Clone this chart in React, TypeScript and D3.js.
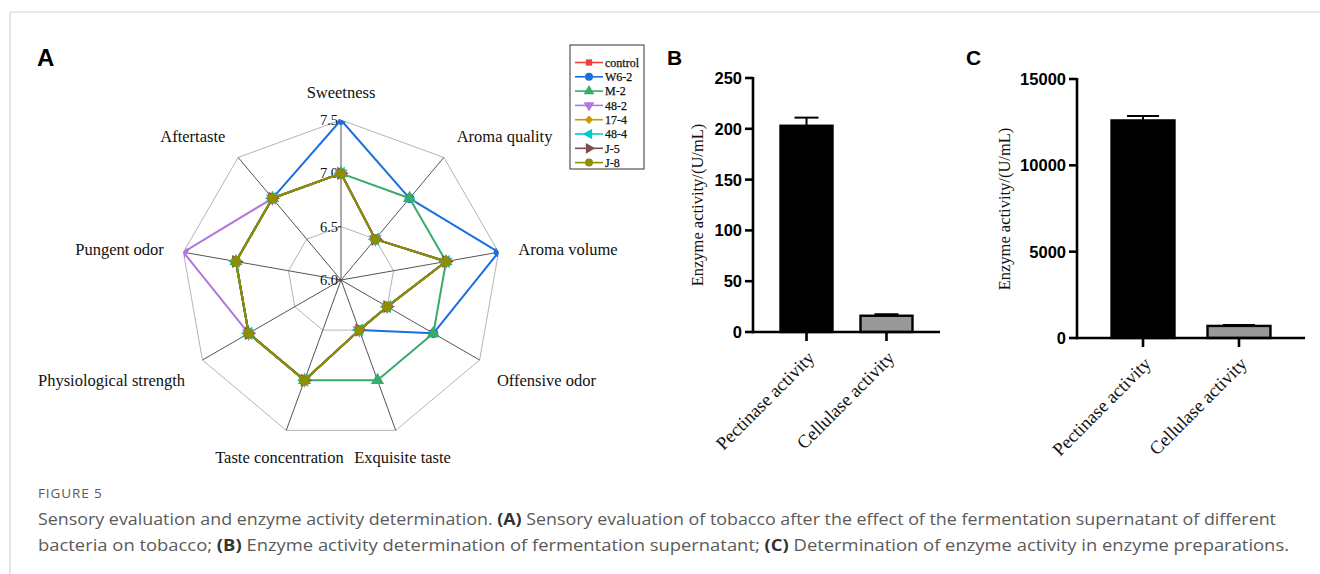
import React from 'react';
import * as d3 from 'd3';

// ---------- Radar data (panel A) ----------
const radarAxes = ['Sweetness', 'Aroma quality', 'Aroma volume', 'Offensive odor', 'Exquisite taste', 'Taste concentration', 'Physiological strength', 'Pungent odor', 'Aftertaste'];
const seriesNames = ['control', 'W6-2', 'M-2', '48-2', '17-4', '48-4', 'J-5', 'J-8'];
const seriesColors = ['#F14040', '#1A6FDF', '#37AD6B', '#B177DE', '#CC9900', '#00CBCC', '#7D4E4E', '#8E8E00'];
const seriesShapes = ['square', 'circle', 'triUp', 'triDown', 'diamond', 'triLeft', 'triRight', 'circle'];
const controlValues = [7.0, 6.5, 7.0, 6.5, 6.5, 7.0, 7.0, 7.0, 7.0];
const w62Values = [7.5, 7.0, 7.5, 7.0, 6.5, 7.0, 7.0, 7.0, 7.0];
const m2Values = [7.0, 7.0, 7.0, 7.0, 7.0, 7.0, 7.0, 7.0, 7.0];
const s482Values = [7.0, 6.5, 7.0, 6.5, 6.5, 7.0, 7.0, 7.5, 7.0];
const s174Values = [7.0, 6.5, 7.0, 6.5, 6.5, 7.0, 7.0, 7.0, 7.0];
const s484Values = [7.0, 6.5, 7.0, 6.5, 6.5, 7.0, 7.0, 7.0, 7.0];
const j5Values = [7.0, 6.5, 7.0, 6.5, 6.5, 7.0, 7.0, 7.0, 7.0];
const j8Values = [7.0, 6.5, 7.0, 6.5, 6.5, 7.0, 7.0, 7.0, 7.0];
const radarSeries = [controlValues, w62Values, m2Values, s482Values, s174Values, s484Values, j5Values, j8Values];
const radarTicks = [6.0, 6.5, 7.0, 7.5];

// ---------- Bar data (panels B, C) ----------
const enzymeCategories = ['Pectinase activity', 'Cellulase activity'];
const barFills = ['#000000', '#999999'];
const supernatantMeans = [203, 16];
const supernatantErrors = [8, 1.5];
const supernatantTicks = [0, 50, 100, 150, 200, 250];
const preparationMeans = [12600, 700];
const preparationErrors = [250, 60];
const preparationTicks = [0, 5000, 10000, 15000];

const SERIF = '"Liberation Serif", "Times New Roman", serif';
const SANS = '"Liberation Sans", Arial, sans-serif';

function markerPath(shape: string, size: number) {
  const sym = d3.symbol();
  if (shape === 'square') return { d: sym.type(d3.symbolSquare).size(size * 0.8)()!, rot: 0 };
  if (shape === 'circle') return { d: sym.type(d3.symbolCircle).size(size)()!, rot: 0 };
  if (shape === 'diamond') return { d: sym.type(d3.symbolSquare).size(size * 0.7)()!, rot: 45 };
  const tri = sym.type(d3.symbolTriangle).size(size)()!;
  const rot = shape === 'triUp' ? 0 : shape === 'triDown' ? 180 : shape === 'triLeft' ? -90 : 90;
  return { d: tri, rot };
}

function Radar() {
  const cx = 341, cy = 280, R = 160;
  const r = d3.scaleLinear().domain([6, 7.5]).range([0, R]);
  const n = radarAxes.length;
  const ang = (i: number) => (i * 2 * Math.PI) / n;
  const pt = (i: number, v: number): [number, number] => [cx + r(v) * Math.sin(ang(i)), cy - r(v) * Math.cos(ang(i))];
  const ring = (v: number) => d3.line()(radarAxes.map((_, i) => pt(i, v)).concat([pt(0, v)]))!;
  const outer = radarAxes.map((_, i) => pt(i, 7.5));
  const lineGen = d3.line<[number, number]>();
  return (
    <g>
      <defs>
        <clipPath id="radarClip">
          <polygon points={outer.map(p => p.join(',')).join(' ')} />
        </clipPath>
      </defs>
      {radarTicks.slice(1).map(t => (
        <path key={t} d={ring(t)} fill="none" stroke="#b4b4b4" strokeWidth={1} />
      ))}
      {radarAxes.map((_, i) => {
        const [x, y] = pt(i, 7.5);
        return <line key={i} x1={cx} y1={cy} x2={x} y2={y} stroke="#555" strokeWidth={1} />;
      })}
      {radarTicks.map(t => (
        <g key={t}>
          <line x1={cx - 3} x2={cx} y1={cy - r(t)} y2={cy - r(t)} stroke="#333" />
          <text x={cx - 3} y={cy - r(t)} dy="0.35em" textAnchor="end" fontFamily={SERIF} fontSize={14.5} fill="#111">
            {t.toFixed(1)}
          </text>
        </g>
      ))}
      <g clipPath="url(#radarClip)">
        {radarSeries.map((vals, s) => {
          const pts = vals.map((v, i) => pt(i, v));
          const m = markerPath(seriesShapes[s], s === radarSeries.length - 1 ? 85 : 75);
          return (
            <g key={s}>
              <path d={lineGen(pts.concat([pts[0]]))!} fill="none" stroke={seriesColors[s]} strokeWidth={2} strokeLinejoin="round" />
              {pts.map((p, i) => (
                <path key={i} d={m.d} transform={`translate(${p[0]},${p[1]}) rotate(${m.rot})`} fill={seriesColors[s]} />
              ))}
            </g>
          );
        })}
      </g>
      {radarAxes.map((label, i) => {
        const a = ang(i);
        const lr = 180;
        const x = cx + lr * Math.sin(a);
        let y = cy - lr * Math.cos(a);
        const s = Math.sin(a), c = Math.cos(a);
        const anchor = s > 0.5 ? 'start' : s < -0.5 ? 'end' : 'middle';
        if (c > 0.95) y -= 8;
        else if (c < -0.3 && c > -0.7) y += 10;
        else if (c > 0.5) y -= 6;
        else if (c < -0.9) y += 8;
        return (
          <text key={label} x={x} y={y} dy="0.35em" textAnchor={anchor} fontFamily={SERIF} fontSize={16.5} fill="#111">
            {label}
          </text>
        );
      })}
      {/* legend */}
      <rect x={570} y={45} width={74} height={124} fill="#fff" stroke="#333" strokeWidth={1} />
      {seriesNames.map((name, s) => {
        const y = 62.5 + s * 14.3;
        const m = markerPath(seriesShapes[s], 50);
        return (
          <g key={name}>
            <line x1={575} x2={603} y1={y} y2={y} stroke={seriesColors[s]} strokeWidth={1.6} />
            <path d={m.d} transform={`translate(589,${y}) rotate(${m.rot})`} fill={seriesColors[s]} />
            <text x={605} y={y} dy="0.35em" fontFamily={SERIF} fontSize={12} fill="#111" stroke="#111" strokeWidth={0.25}>
              {name}
            </text>
          </g>
        );
      })}
    </g>
  );
}

interface BarProps {
  axisX: number; xEnd: number; yBottom: number; yTop: number; maxV: number;
  ticks: number[]; means: number[]; errors: number[]; titleX: number; titleY: number;
  paddingInner: number; paddingOuter: number; capHalf: number;
}

function BarPanel(p: BarProps) {
  const x = d3.scaleBand<string>().domain(enzymeCategories).range([p.axisX, p.xEnd]).paddingInner(p.paddingInner).paddingOuter(p.paddingOuter);
  const y = d3.scaleLinear().domain([0, p.maxV]).range([p.yBottom, p.yTop]);
  const fmt = d3.format('d');
  const sw = 2.6;
  return (
    <g>
      {enzymeCategories.map((c, i) => {
        const bx = x(c)!, bw = x.bandwidth();
        const cxm = bx + bw / 2;
        const top = y(p.means[i]);
        const et = y(p.means[i] + p.errors[i]);
        return (
          <g key={c}>
            <line x1={cxm} x2={cxm} y1={top} y2={et} stroke="#000" strokeWidth={2} />
            <line x1={cxm - p.capHalf} x2={cxm + p.capHalf} y1={et} y2={et} stroke="#000" strokeWidth={2} />
            <rect x={bx} y={top} width={bw} height={p.yBottom - top} fill={barFills[i]} stroke="#000" strokeWidth={2.4} />
            <line x1={cxm} x2={cxm} y1={p.yBottom} y2={p.yBottom + 9} stroke="#000" strokeWidth={sw} />
            <text transform={`translate(${cxm + 9},${p.yBottom + 27}) rotate(-45)`} textAnchor="end" fontFamily={SERIF} fontSize={18.5} fill="#111">
              {c}
            </text>
          </g>
        );
      })}
      <line x1={p.axisX} x2={p.axisX} y1={p.yTop - 1} y2={p.yBottom + 1.3} stroke="#000" strokeWidth={sw} />
      <line x1={p.axisX - 1.3} x2={p.xEnd} y1={p.yBottom} y2={p.yBottom} stroke="#000" strokeWidth={sw} />
      {p.ticks.map(t => (
        <g key={t}>
          <line x1={p.axisX - 8} x2={p.axisX} y1={y(t)} y2={y(t)} stroke="#000" strokeWidth={sw} />
          <text x={p.axisX - 11} y={y(t)} dy="0.36em" textAnchor="end" fontFamily={SANS} fontWeight="bold" fontSize={16.5} fill="#000">
            {fmt(t)}
          </text>
        </g>
      ))}
      <text transform={`translate(${p.titleX},${p.titleY}) rotate(-90)`} dy="0.35em" textAnchor="middle" fontFamily={SERIF} fontSize={16.5} fill="#111">
        Enzyme activity/(U/mL)
      </text>
    </g>
  );
}

export default function App() {
  const capColor = '#5a5a5a';
  return (
    <svg width={1320} height={574} style={{ position: 'absolute', left: 0, top: 0, background: '#fff' }}>
      <rect x={0} y={0} width={1320} height={574} fill="#fff" />
      <line x1={10} x2={1320} y1={12} y2={12} stroke="#d4d4d4" strokeWidth={1.2} />
      <line x1={10} x2={10} y1={12} y2={574} stroke="#d4d4d4" strokeWidth={1.2} />
      <text x={37} y={66} fontFamily={SANS} fontWeight="bold" fontSize={24} fill="#000">A</text>
      <text x={667} y={65} fontFamily={SANS} fontWeight="bold" fontSize={21} fill="#000">B</text>
      <text x={966} y={65} fontFamily={SANS} fontWeight="bold" fontSize={21} fill="#000">C</text>
      <Radar />
      <BarPanel axisX={753} xEnd={940} yBottom={332} yTop={78} maxV={250} ticks={supernatantTicks}
        means={supernatantMeans} errors={supernatantErrors} titleX={697} titleY={205}
        paddingInner={0.35} paddingOuter={0.344} capHalf={12} />
      <BarPanel axisX={1077} xEnd={1305} yBottom={338} yTop={79} maxV={15000} ticks={preparationTicks}
        means={preparationMeans} errors={preparationErrors} titleX={1004} titleY={209}
        paddingInner={0.344} paddingOuter={0.36} capHalf={16} />
      <text x={38} y={498} fontFamily={'"Open Sans", sans-serif'} fontSize={13.5} fill={capColor} letterSpacing={0.9}>FIGURE 5</text>
      <text x={38} y={525} fontFamily={'"Open Sans", sans-serif'} fontSize={15.5} fill={capColor} textLength={1238} lengthAdjust="spacingAndGlyphs">
        Sensory evaluation and enzyme activity determination. <tspan fontWeight="bold" fill="#333">(A)</tspan> Sensory evaluation of tobacco after the effect of the fermentation supernatant of different
      </text>
      <text x={38} y={551} fontFamily={'"Open Sans", sans-serif'} fontSize={15.5} fill={capColor} textLength={1251} lengthAdjust="spacingAndGlyphs">
        bacteria on tobacco; <tspan fontWeight="bold" fill="#333">(B)</tspan> Enzyme activity determination of fermentation supernatant; <tspan fontWeight="bold" fill="#333">(C)</tspan> Determination of enzyme activity in enzyme preparations.
      </text>
    </svg>
  );
}
